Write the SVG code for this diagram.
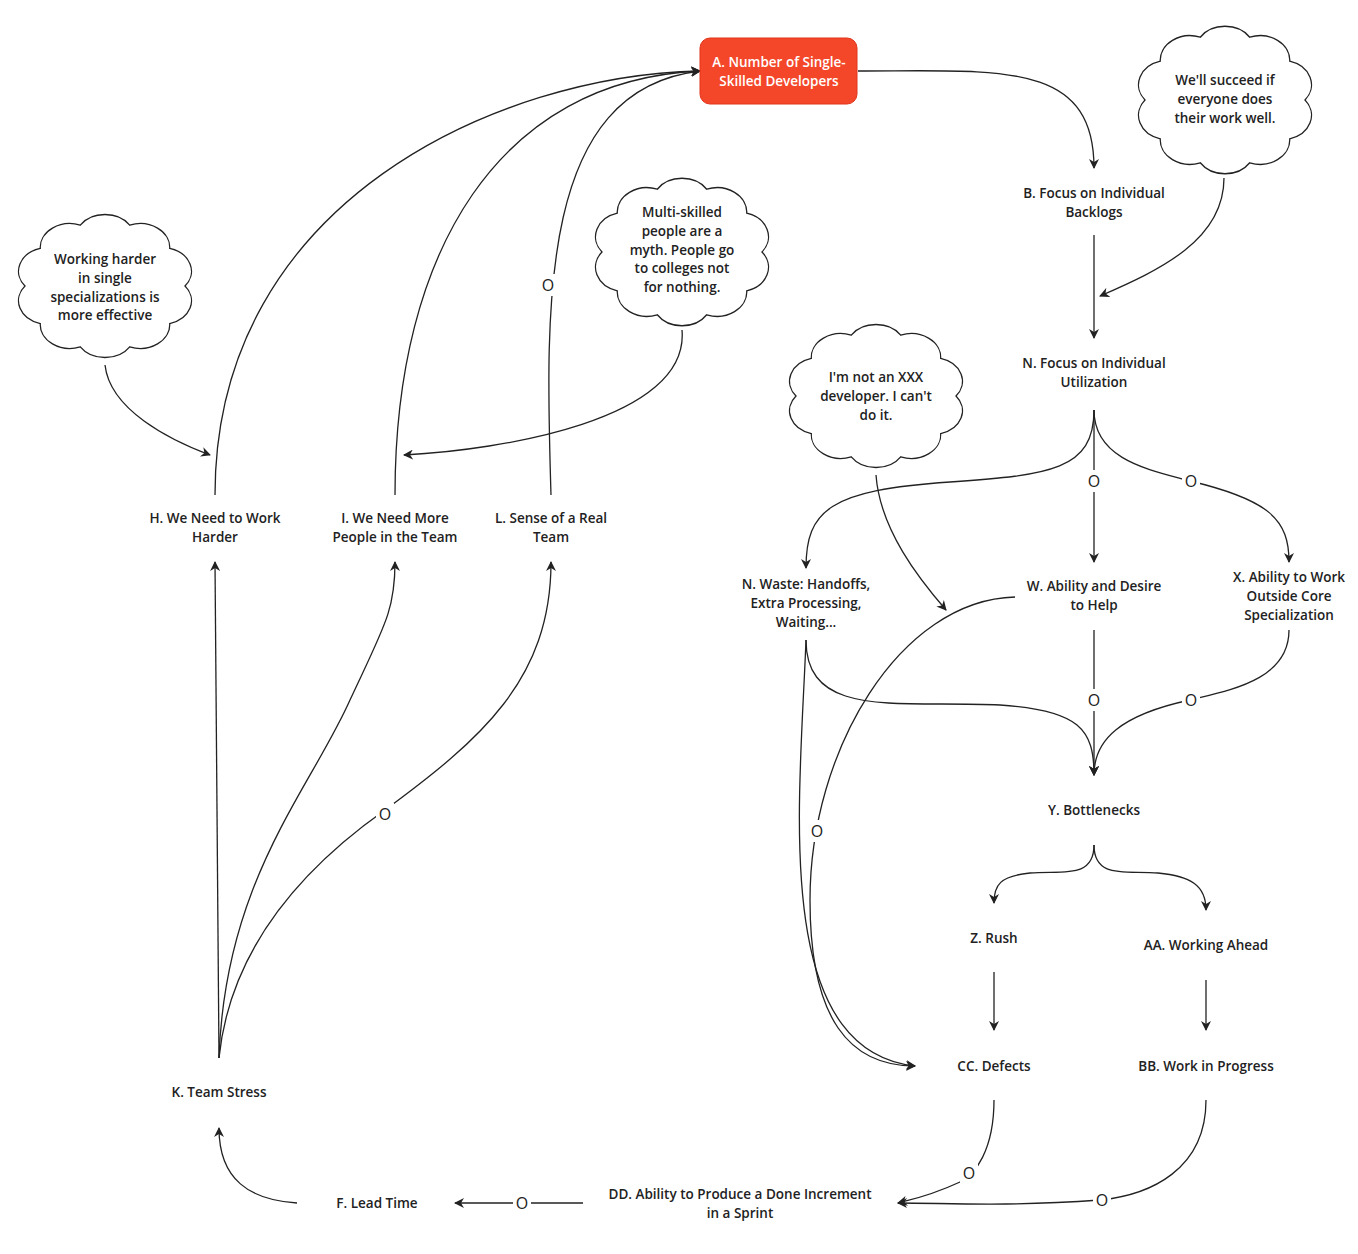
<svg xmlns="http://www.w3.org/2000/svg" xmlns:xlink="http://www.w3.org/1999/xlink" width="1358" height="1254" viewBox="0 0 1358 1254">
<style>
.t{font-family:"Open Sans","DejaVu Sans",sans-serif;font-size:13.5px;font-weight:600;fill:#222;text-anchor:middle}
.w{fill:#fff}
.e{fill:none;stroke:#222;stroke-width:1.3}
.o{font-family:"Open Sans","DejaVu Sans",sans-serif;font-size:16px;fill:#222;text-anchor:middle}
.c{fill:#fff;stroke:#222;stroke-width:1.3}
</style>
<defs>
<marker id="ar" viewBox="0 0 10 10" refX="9" refY="5" markerWidth="10" markerHeight="10" markerUnits="userSpaceOnUse" orient="auto"><path d="M0,0 L10,5 L0,10 L3,5 z" fill="#222"/></marker>
<path id="cl" d="M1,0 A0.37,0.37 0 0 1 0.809,0.588 A0.37,0.37 0 0 1 0.309,0.951 A0.37,0.37 0 0 1 -0.309,0.951 A0.37,0.37 0 0 1 -0.809,0.588 A0.37,0.37 0 0 1 -1,0 A0.37,0.37 0 0 1 -0.809,-0.588 A0.37,0.37 0 0 1 -0.309,-0.951 A0.37,0.37 0 0 1 0.309,-0.951 A0.37,0.37 0 0 1 0.809,-0.588 A0.37,0.37 0 0 1 1,0 z" vector-effect="non-scaling-stroke"/>
</defs>
<rect width="1358" height="1254" fill="#fff"/>
<g id="connectors" class="e" marker-end="url(#ar)">
<path d="M858,71 C1000,71 1094,60 1094,168"/>
<path d="M1224,178 C1224,240 1160,270 1100,296"/>
<path d="M1094,235 L1094,338"/>
<path d="M1094,410 C1094,470 1050,475 950,482 C830,490 806,510 806,568"/>
<path d="M1094,410 L1094,562"/>
<path d="M1094,410 C1094,460 1150,470 1190,481 C1270,500 1289,520 1289,562"/>
<path d="M806,640 C806,720 900,700 1000,705 C1080,710 1094,730 1094,775"/>
<path d="M1094,630 L1094,775"/>
<path d="M1289,630 C1289,680 1230,690 1190,700 C1120,715 1094,740 1094,775"/>
<path d="M1094,845 C1094,880 1060,870 1030,873 C1000,876 994,885 994,903"/>
<path d="M1094,845 C1094,880 1128,870 1158,873 C1190,876 1206,885 1206,910"/>
<path d="M994,972 L994,1030"/>
<path d="M1206,980 L1206,1030"/>
<path d="M806,640 C800,800 770,1050 915,1066"/>
<path d="M1015,597 C900,600 810,750 810,900 C810,1020 850,1066 915,1066"/>
<path d="M876,475 C880,530 920,580 946,610"/>
<path d="M994,1100 C994,1150 975,1175 960,1182 C930,1196 910,1200 898,1203"/>
<path d="M1206,1100 C1206,1170 1150,1195 1100,1200 C1000,1207 950,1203 898,1203"/>
<path d="M583,1203 L455,1203"/>
<path d="M297,1203 C250,1200 219,1180 219,1128"/>
<path d="M219,1058 L215,562"/>
<path d="M219,1058 C225,880 310,790 350,700 C385,625 395,610 395,562"/>
<path d="M219,1058 C230,950 300,870 385,810 C480,740 551,680 551,562"/>
<path d="M215,495 C215,200 500,75 700,71"/>
<path d="M395,495 C395,250 500,80 700,71"/>
<path d="M551,495 C545,300 540,90 700,71"/>
<path d="M105,365 C110,410 170,440 210,455"/>
<path d="M682,330 C690,420 500,450 404,455"/>
</g>
<g id="o-labels">
<rect x="1085" y="470" width="18" height="22" class="w"/><text x="1094" y="487" class="o">O</text>
<rect x="1182" y="470" width="18" height="22" class="w"/><text x="1191" y="487" class="o">O</text>
<rect x="1085" y="689" width="18" height="22" class="w"/><text x="1094" y="706" class="o">O</text>
<rect x="1182" y="689" width="18" height="22" class="w"/><text x="1191" y="706" class="o">O</text>
<rect x="808" y="820" width="18" height="22" class="w"/><text x="817" y="837" class="o">O</text>
<rect x="960" y="1162" width="18" height="22" class="w"/><text x="969" y="1179" class="o">O</text>
<rect x="1093" y="1189" width="18" height="22" class="w"/><text x="1102" y="1206" class="o">O</text>
<rect x="513" y="1192" width="18" height="22" class="w"/><text x="522" y="1209" class="o">O</text>
<rect x="376" y="803" width="18" height="22" class="w"/><text x="385" y="820" class="o">O</text>
<rect x="539" y="274" width="18" height="22" class="w"/><text x="548" y="291" class="o">O</text>
</g>
<g id="A"><rect x="700" y="38" width="157" height="66" rx="10" fill="#f4472a" stroke="#e0341a"/><text class="t" x="779" y="67" style="fill:#fff">A. Number of Single-</text><text class="t" x="779" y="86" style="fill:#fff">Skilled Developers</text></g>
<g id="B"><text class="t" x="1094" y="198">B. Focus on Individual</text><text class="t" x="1094" y="217">Backlogs</text></g>
<g id="N1"><text class="t" x="1094" y="368">N. Focus on Individual</text><text class="t" x="1094" y="387">Utilization</text></g>
<g id="NW"><text class="t" x="806" y="589">N. Waste: Handoffs,</text><text class="t" x="806" y="608">Extra Processing,</text><text class="t" x="806" y="627">Waiting...</text></g>
<g id="W"><text class="t" x="1094" y="591">W. Ability and Desire</text><text class="t" x="1094" y="610">to Help</text></g>
<g id="X"><text class="t" x="1289" y="582">X. Ability to Work</text><text class="t" x="1289" y="601">Outside Core</text><text class="t" x="1289" y="620">Specialization</text></g>
<g id="Y"><text class="t" x="1094" y="815">Y. Bottlenecks</text></g>
<g id="Z"><text class="t" x="994" y="943">Z. Rush</text></g>
<g id="AA"><text class="t" x="1206" y="950">AA. Working Ahead</text></g>
<g id="CC"><text class="t" x="994" y="1071">CC. Defects</text></g>
<g id="BB"><text class="t" x="1206" y="1071">BB. Work in Progress</text></g>
<g id="DD"><text class="t" x="740" y="1199">DD. Ability to Produce a Done Increment</text><text class="t" x="740" y="1218">in a Sprint</text></g>
<g id="F"><text class="t" x="377" y="1208">F. Lead Time</text></g>
<g id="K"><text class="t" x="219" y="1097">K. Team Stress</text></g>
<g id="H"><text class="t" x="215" y="523">H. We Need to Work</text><text class="t" x="215" y="542">Harder</text></g>
<g id="I"><text class="t" x="395" y="523">I. We Need More</text><text class="t" x="395" y="542">People in the Team</text></g>
<g id="L"><text class="t" x="551" y="523">L. Sense of a Real</text><text class="t" x="551" y="542">Team</text></g>
<g id="cloud1"><use href="#cl" class="c" transform="translate(105,286) scale(80,64)"/><text class="t" x="105" y="264">Working harder</text><text class="t" x="105" y="283">in single</text><text class="t" x="105" y="302">specializations is</text><text class="t" x="105" y="320">more effective</text></g>
<g id="cloud2"><use href="#cl" class="c" transform="translate(682,252) scale(80,66)"/><text class="t" x="682" y="217">Multi-skilled</text><text class="t" x="682" y="236">people are a</text><text class="t" x="682" y="255">myth. People go</text><text class="t" x="682" y="273">to colleges not</text><text class="t" x="682" y="292">for nothing.</text></g>
<g id="cloud3"><use href="#cl" class="c" transform="translate(876,396) scale(80,64)"/><text class="t" x="876" y="382">I'm not an XXX</text><text class="t" x="876" y="401">developer. I can't</text><text class="t" x="876" y="420">do it.</text></g>
<g id="cloud4"><use href="#cl" class="c" transform="translate(1225,100) scale(80,66)"/><text class="t" x="1225" y="85">We'll succeed if</text><text class="t" x="1225" y="104">everyone does</text><text class="t" x="1225" y="123">their work well.</text></g>
</svg>
